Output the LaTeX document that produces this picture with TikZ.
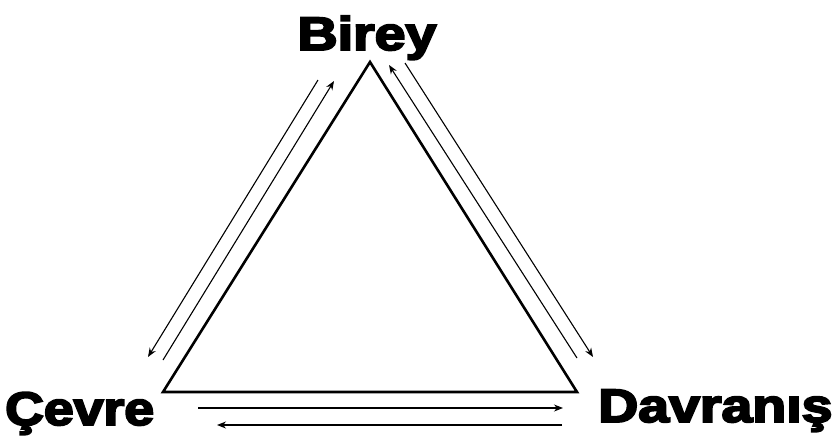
\documentclass[tikz,border=0pt]{standalone}
\usepackage{fontspec}
\setmainfont{Liberation Sans}[BoldFeatures={FakeBold=4}]
\usetikzlibrary{arrows.meta}
\begin{document}
\begin{tikzpicture}[x=1pt,y=-1pt,
  tri/.style={line width=2.6pt, line join=miter},
  arr/.style={line width=1.1pt, -{Stealth[length=9pt,width=7pt]}},
  lbl/.style={font=\fontsize{47}{50}\selectfont\bfseries, inner sep=0pt}]
\useasboundingbox (0,0) rectangle (840,437);
\coordinate (T) at (370,62);
\coordinate (L) at (163,392);
\coordinate (R) at (577,392);
\draw[tri] (T) -- (L) -- (R) -- cycle;
% left side
\coordinate (l1a) at (318,80); \coordinate (l1b) at (148,357);
\coordinate (l2a) at (163,360); \coordinate (l2b) at (334,81);
\draw[arr] (l1a) -- (l1b);
\draw[arr] (l2a) -- (l2b);
% right side
\coordinate (r1a) at (577,358); \coordinate (r1b) at (389,65);
\coordinate (r2a) at (405,63); \coordinate (r2b) at (593,357);
\draw[arr] (r1a) -- (r1b);
\draw[arr] (r2a) -- (r2b);
% bottom
\coordinate (b1a) at (198,408); \coordinate (b1b) at (563,408);
\coordinate (b2a) at (562,425); \coordinate (b2b) at (217,425);
\draw[arr] (b1a) -- (b1b);
\draw[arr] (b2a) -- (b2b);
\node[lbl, anchor=base] (birey) at (367,50) {\scalebox{1.18}[1]{Birey}};
\node[lbl, anchor=base west] (cevre) at (5,425) {\scalebox{1.14}[1]{Çevre}};
\node[lbl, anchor=base west] (davranis) at (598,422) {\scalebox{1.18}[1]{Davranış}};
\end{tikzpicture}
\end{document}
